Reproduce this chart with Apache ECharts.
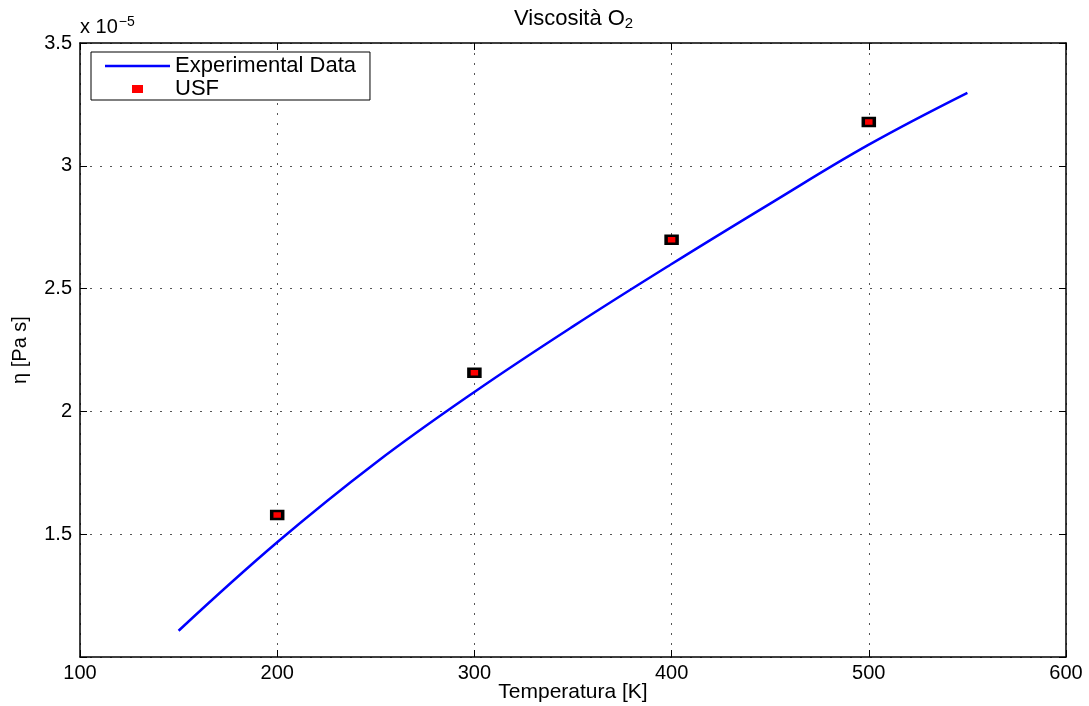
<!DOCTYPE html>
<html>
<head>
<meta charset="utf-8">
<script src="https://cdn.jsdelivr.net/npm/echarts@6/dist/echarts.min.js"></script>
<style>
  html, body { margin: 0; padding: 0; background: #fff; }
  #main { width: 1089px; height: 706px; }
</style>
</head>
<body>
<div id="main"></div>
<script>
// viscosity values in units of 1e-5 Pa s
var expT = [150, 200, 250, 300, 350, 400, 450, 500, 550];
var expEta = [1.107, 1.467, 1.791, 2.079, 2.346, 2.600, 2.846, 3.086, 3.297];
var usfT = [200, 300, 400, 500];
var usfEta = [1.578, 2.157, 2.699, 3.178];

var font = 'Liberation Sans, Arial, sans-serif';

var chart = echarts.init(document.getElementById('main'), null, { renderer: 'canvas' });

var gridLine = { show: true, lineStyle: { color: '#555', width: 1, type: [2, 8] } };
var boxLine = { show: true, onZero: false, lineStyle: { color: '#000', width: 1.5 } };
var tick = { show: true, inside: true, length: 7, lineStyle: { color: '#000', width: 1 } };

var option = {
  backgroundColor: '#ffffff',
  animation: false,
  textStyle: { fontFamily: font },
  title: {
    text: 'Viscosità O{sub|2}',
    left: 509,
    top: 1,
    textStyle: {
      fontFamily: font, fontSize: 22, fontWeight: 'normal', color: '#000',
      rich: { sub: { fontFamily: font, fontSize: 15, color: '#000', padding: [10, 0, 0, 0] } }
    }
  },
  graphic: [{
    type: 'text',
    left: 80,
    top: 15,
    style: {
      text: 'x 10{sup|−5}',
      fontFamily: font, fontSize: 20, fill: '#000',
      rich: { sup: { fontFamily: font, fontSize: 14, fill: '#000', padding: [0, 0, 10, 1] } }
    }
  }],
  legend: {
    left: 91,
    top: 52,
    orient: 'vertical',
    backgroundColor: '#fff',
    borderColor: '#000',
    borderWidth: 1,
    borderRadius: 0,
    padding: [3, 14, 0, 14],
    itemGap: 1,
    itemWidth: 65,
    itemHeight: 8,
    textStyle: { fontFamily: font, fontSize: 22, color: '#000' },
    data: [
      { name: 'Experimental Data', icon: 'path://M0,0h65v2.5h-65z', itemStyle: { color: '#0000ff' } },
      { name: 'USF', icon: 'path://M0,0h11v8h-11z', itemStyle: { color: '#ff0000', borderWidth: 0, opacity: 1 } }
    ]
  },
  grid: { left: 80, right: 23, top: 43, bottom: 49, containLabel: false, outerBoundsMode: 'none' },
  xAxis: [{
    type: 'value',
    min: 100, max: 600, interval: 100,
    position: 'bottom',
    name: 'Temperatura [K]',
    nameLocation: 'middle',
    nameGap: 25,
    nameMoveOverlap: false,
    nameTextStyle: { fontFamily: font, fontSize: 21, color: '#000' },
    axisLine: boxLine,
    axisTick: tick,
    axisLabel: { fontFamily: font, fontSize: 20, color: '#000', margin: 6 },
    splitLine: gridLine
  }, {
    type: 'value',
    min: 100, max: 600, interval: 100,
    position: 'top',
    axisLine: boxLine,
    axisTick: tick,
    axisLabel: { show: false },
    splitLine: { show: false }
  }],
  yAxis: [{
    type: 'value',
    min: 1, max: 3.5, interval: 0.5,
    position: 'left',
    name: 'η [Pa s]',
    nameLocation: 'middle',
    nameGap: 50,
    nameMoveOverlap: false,
    nameTextStyle: { fontFamily: font, fontSize: 20, color: '#000' },
    axisLine: boxLine,
    axisTick: tick,
    axisLabel: {
      fontFamily: font, fontSize: 20, color: '#000', margin: 8,
      formatter: function (v) { return v === 1 ? '' : String(v); }
    },
    splitLine: gridLine
  }, {
    type: 'value',
    min: 1, max: 3.5, interval: 0.5,
    position: 'right',
    axisLine: boxLine,
    axisTick: tick,
    axisLabel: { show: false },
    splitLine: { show: false }
  }],
  series: [{
    name: 'Experimental Data',
    type: 'line',
    xAxisIndex: 0,
    yAxisIndex: 0,
    symbol: 'none',
    smooth: 0.4,
    lineStyle: { color: '#0000ff', width: 2.5 },
    itemStyle: { color: '#0000ff' },
    data: expT.map(function (t, i) { return [t, expEta[i]]; })
  }, {
    name: 'USF',
    type: 'scatter',
    xAxisIndex: 0,
    yAxisIndex: 0,
    symbol: 'rect',
    symbolSize: [11, 8],
    itemStyle: { color: '#ff0000', borderColor: '#000', borderWidth: 3, opacity: 1 },
    data: usfT.map(function (t, i) { return [t, usfEta[i]]; })
  }]
};

chart.setOption(option);
</script>
</body>
</html>
